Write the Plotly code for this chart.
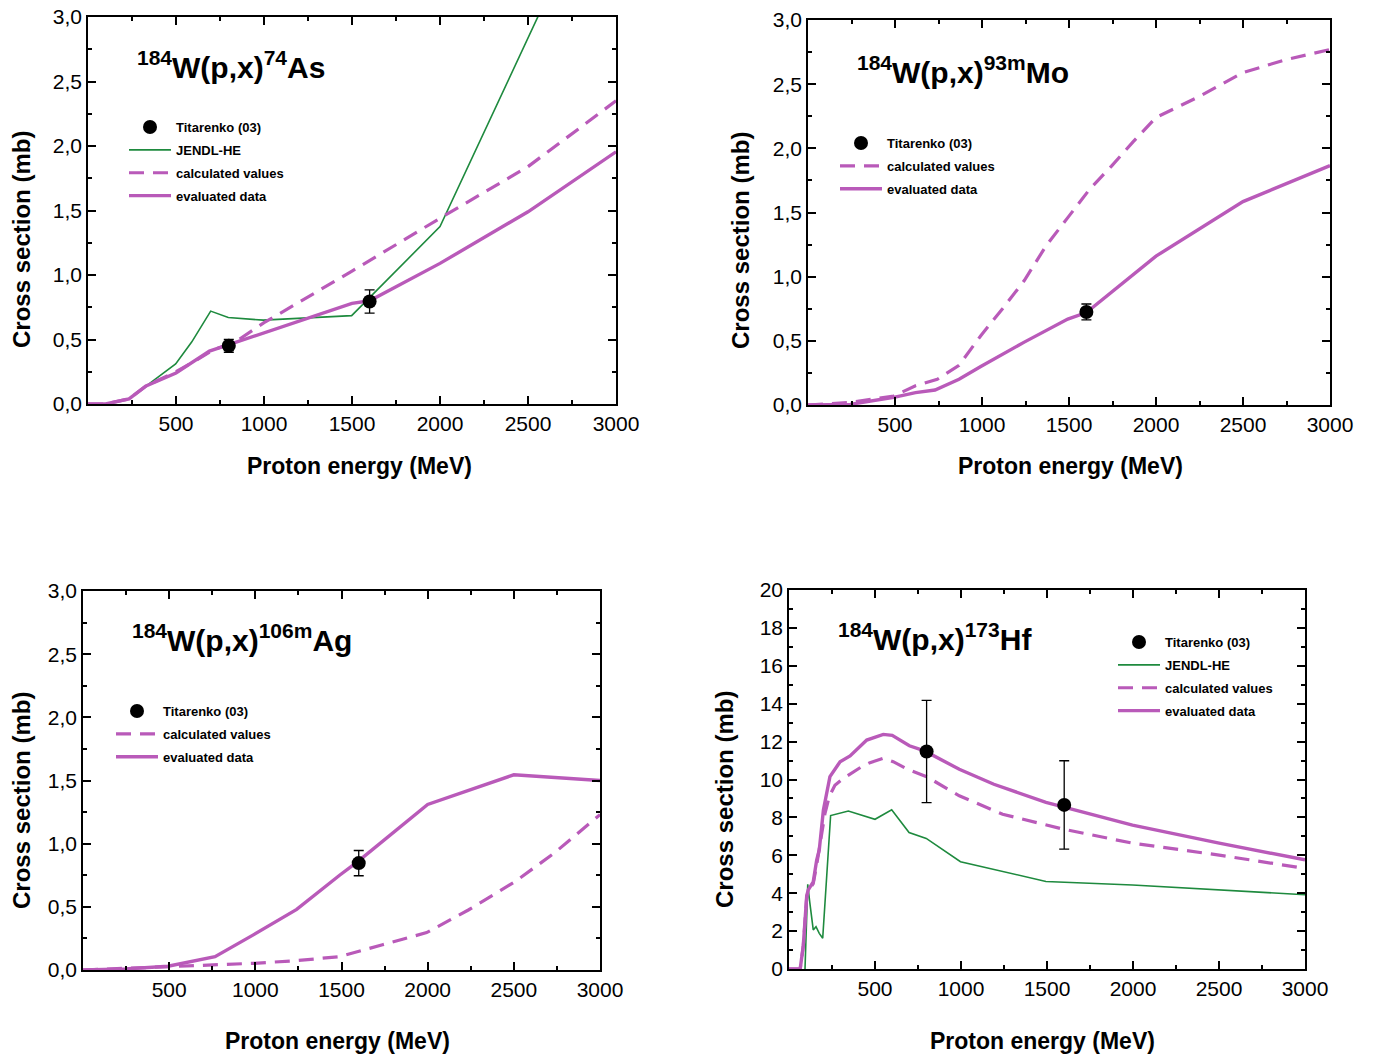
import plotly.graph_objects as go

# ---------------- data ----------------
# Panel 1: 184W(p,x)74As
as_exp_E = [800, 1600]
as_exp = [0.451, 0.795]
as_exp_err = [0.05, 0.09]
as_jendl_E = [100, 233, 498, 589, 697, 797, 996, 1498, 2000, 3000]
as_jendl = [0.0, 0.04, 0.31, 0.48, 0.72, 0.67, 0.65, 0.685, 1.375, 4.3]
as_calc_E = [0, 100, 233, 330, 500, 617, 711, 836, 1000, 1500, 2000, 2500, 3000]
as_calc = [0.0, 0.0, 0.04, 0.14, 0.25, 0.34, 0.42, 0.48, 0.63, 1.03, 1.44, 1.84, 2.35]
as_eval_E = [0, 100, 233, 330, 500, 690, 800, 1000, 1500, 1600, 2000, 2500, 3000]
as_eval = [0.0, 0.0, 0.04, 0.14, 0.24, 0.41, 0.46, 0.55, 0.78, 0.80, 1.09, 1.49, 1.955]

# Panel 2: 184W(p,x)93mMo
mo_exp_E = [1600]
mo_exp = [0.725]
mo_exp_err = [0.062]
mo_calc_E = [0, 243, 493, 618, 743, 868, 993, 1118, 1243, 1368, 1493, 1618, 1743, 1868, 2000, 2243, 2500, 2743, 3000]
mo_calc = [0.0, 0.02, 0.07, 0.15, 0.2, 0.31, 0.54, 0.75, 0.97, 1.24, 1.46, 1.68, 1.86, 2.05, 2.24, 2.40, 2.59, 2.69, 2.77]
mo_eval_E = [0, 243, 493, 618, 730, 868, 993, 1243, 1493, 1600, 2000, 2500, 3000]
mo_eval = [0.0, 0.005, 0.06, 0.096, 0.117, 0.2, 0.30, 0.49, 0.67, 0.72, 1.16, 1.585, 1.865]

# Panel 3: 184W(p,x)106mAg
ag_exp_E = [1600]
ag_exp = [0.846]
ag_exp_err = [0.10]
ag_calc_E = [0, 244, 493, 742, 991, 1240, 1489, 1738, 1994, 2236, 2502, 2734, 3000]
ag_calc = [0.0, 0.013, 0.026, 0.04, 0.053, 0.074, 0.106, 0.2, 0.296, 0.475, 0.695, 0.925, 1.23]
ag_eval_E = [0, 244, 493, 766, 991, 1240, 1489, 1596, 2000, 2500, 3000]
ag_eval = [0.0, 0.008, 0.03, 0.105, 0.28, 0.48, 0.75, 0.86, 1.31, 1.545, 1.50]

# Panel 4: 184W(p,x)173Hf
hf_exp_E = [800, 1600]
hf_exp = [11.48, 8.66]
hf_exp_err = [2.7, 2.33]
hf_jendl_E = [93, 109, 121, 141, 157, 176, 196, 242, 345, 500, 597, 698, 798, 997, 1494, 1997, 3000]
hf_jendl = [0.0, 4.47, 3.5, 2.06, 2.23, 1.88, 1.62, 8.1, 8.34, 7.9, 8.4, 7.2, 6.89, 5.66, 4.62, 4.43, 3.92]
hf_calc_E = [0, 65, 83, 103, 113, 141, 161, 184, 209, 234, 267, 316, 423, 471, 548, 606, 688, 800, 990, 1242, 1594, 1997, 2501, 3000]
hf_calc = [0.0, 0.0, 1.2, 3.8, 4.15, 4.5, 5.5, 6.8, 8.2, 9.1, 9.7, 10.06, 10.68, 10.89, 11.12, 10.94, 10.54, 10.15, 9.14, 8.17, 7.38, 6.64, 6.01, 5.31]
hf_eval_E = [0, 65, 83, 103, 112, 141, 161, 176, 200, 238, 297, 355, 452, 548, 600, 650, 700, 788, 990, 1191, 1494, 1997, 2501, 3000]
hf_eval = [0.0, 0.0, 1.23, 3.87, 4.17, 4.6, 5.75, 6.28, 8.39, 10.15, 10.94, 11.24, 12.08, 12.38, 12.33, 12.04, 11.78, 11.51, 10.54, 9.75, 8.79, 7.59, 6.64, 5.76]

titles = ["<b><sup>184</sup>W(p,x)<sup>74</sup>As</b>",
          "<b><sup>184</sup>W(p,x)<sup>93m</sup>Mo</b>",
          "<b><sup>184</sup>W(p,x)<sup>106m</sup>Ag</b>",
          "<b><sup>184</sup>W(p,x)<sup>173</sup>Hf</b>"]
x_tickvals = [500, 1000, 1500, 2000, 2500, 3000]
x_ticktext = ["500", "1000", "1500", "2000", "2500", "3000"]
y_tickvals_small = [0, 0.5, 1.0, 1.5, 2.0, 2.5, 3.0]
y_ticktext_small = ["0,0", "0,5", "1,0", "1,5", "2,0", "2,5", "3,0"]
y_tickvals_hf = [0, 2, 4, 6, 8, 10, 12, 14, 16, 18, 20]
y_ticktext_hf = [str(v) for v in y_tickvals_hf]

# ---------------- style ----------------
MAG = "#b95ab9"
GRN = "#1e8a3e"
OFF = 8                      # page body margin offset
W, H = 1379 - OFF, 1056 - OFF
FONT = "Liberation Sans, Arial, sans-serif"


def px(x):
    return (x - OFF) / W


def py(y):
    return 1 - (y - OFF) / H


fig = go.Figure()

panels = [
    dict(ax="", exp=(as_exp_E, as_exp, as_exp_err), jendl=(as_jendl_E, as_jendl),
         calc=(as_calc_E, as_calc), ev=(as_eval_E, as_eval)),
    dict(ax="2", exp=(mo_exp_E, mo_exp, mo_exp_err), jendl=None,
         calc=(mo_calc_E, mo_calc), ev=(mo_eval_E, mo_eval)),
    dict(ax="3", exp=(ag_exp_E, ag_exp, ag_exp_err), jendl=None,
         calc=(ag_calc_E, ag_calc), ev=(ag_eval_E, ag_eval)),
    dict(ax="4", exp=(hf_exp_E, hf_exp, hf_exp_err), jendl=(hf_jendl_E, hf_jendl),
         calc=(hf_calc_E, hf_calc), ev=(hf_eval_E, hf_eval)),
]

for i, p in enumerate(panels):
    xa, ya = "x" + p["ax"], "y" + p["ax"]
    leg = "legend" if i == 0 else "legend" + str(i + 1)
    if p["jendl"] is not None:
        fig.add_trace(go.Scatter(x=p["jendl"][0], y=p["jendl"][1], mode="lines",
                                 name="JENDL-HE", line=dict(color=GRN, width=1.6),
                                 xaxis=xa, yaxis=ya, legend=leg, legendrank=2,
                                 legendgroup=f"j{i}"))
    fig.add_trace(go.Scatter(x=p["calc"][0], y=p["calc"][1], mode="lines",
                             name="calculated values",
                             line=dict(color=MAG, width=3.2, dash="15px,9px"),
                             xaxis=xa, yaxis=ya, legend=leg, legendrank=3,
                             legendgroup=f"c{i}"))
    fig.add_trace(go.Scatter(x=p["ev"][0], y=p["ev"][1], mode="lines",
                             name="evaluated data", line=dict(color=MAG, width=3.4),
                             xaxis=xa, yaxis=ya, legend=leg, legendrank=4,
                             legendgroup=f"e{i}"))
    fig.add_trace(go.Scatter(x=p["exp"][0], y=p["exp"][1], mode="markers",
                             name="Titarenko (03)",
                             marker=dict(color="black", size=14),
                             error_y=dict(type="data", array=p["exp"][2], color="black",
                                          thickness=1.3, width=5),
                             xaxis=xa, yaxis=ya, legend=leg, legendrank=1,
                             legendgroup=f"x{i}"))

# domains in screen pixel coords (left, right, top, bottom)
boxes = [(88, 616, 17, 404), (808, 1330, 20, 405), (83, 600, 591, 970), (789, 1305, 590, 969)]

axis_common = dict(showline=True, linecolor="black", linewidth=1.5, mirror="allticks",
                   ticks="inside", ticklen=8, tickwidth=1.5, tickcolor="black",
                   showgrid=False, zeroline=False, automargin=False,
                   ticklabeloverflow="allow",
                   tickfont=dict(family=FONT, size=21, color="black"))

layout = dict(width=W, height=H, margin=dict(l=0, r=0, t=0, b=0),
              paper_bgcolor="white", plot_bgcolor="white", showlegend=True)

for i, (l, r, t, b) in enumerate(boxes):
    s = "" if i == 0 else str(i + 1)
    xd = [px(l), px(r)]
    yd = [py(b), py(t)]
    xaxis = dict(axis_common, domain=xd, range=[0, 3000], anchor="y" + s,
                 tickmode="array", tickvals=x_tickvals, ticktext=x_ticktext,
                 minor=dict(tickmode="array", tickvals=[250, 750, 1250, 1750, 2250, 2750],
                            ticks="inside", ticklen=4, tickwidth=1.5, tickcolor="black",
                            showgrid=False))
    if i == 3:
        yaxis = dict(axis_common, domain=yd, range=[0, 20], anchor="x" + s,
                     tickmode="array", tickvals=y_tickvals_hf, ticktext=y_ticktext_hf,
                     minor=dict(tickmode="array", tickvals=list(range(1, 20, 2)),
                                ticks="inside", ticklen=4, tickwidth=1.5,
                                tickcolor="black", showgrid=False))
    else:
        yaxis = dict(axis_common, domain=yd, range=[0, 3.0], anchor="x" + s,
                     tickmode="array", tickvals=y_tickvals_small, ticktext=y_ticktext_small,
                     minor=dict(tickmode="array", tickvals=[0.25, 0.75, 1.25, 1.75, 2.25, 2.75],
                                ticks="inside", ticklen=4, tickwidth=1.5,
                                tickcolor="black", showgrid=False))
    layout["xaxis" + s] = xaxis
    layout["yaxis" + s] = yaxis

# legends (screen pixel positions of top-left)
legpos = [(124, 112), (835, 128), (111, 696), (1113, 627)]
for i, (lx, ly) in enumerate(legpos):
    key = "legend" if i == 0 else "legend" + str(i + 1)
    layout[key] = dict(x=px(lx), y=py(ly), xanchor="left", yanchor="top",
                       bgcolor="rgba(0,0,0,0)", borderwidth=0,
                       font=dict(family=FONT, size=13, color="black", weight="bold"),
                       tracegroupgap=3, itemwidth=42, traceorder="grouped")

fig.update_layout(**layout)

# titles and axis titles as annotations
title_pos = [(135, 65), (855, 70), (130, 638), (836, 637)]
xt_pos = [(359, 466), (1070, 466), (337, 1041), (1042, 1041)]
yt_pos = [(21, 240), (741, 241), (21, 801), (724, 800)]
for i in range(4):
    tx, ty = title_pos[i]
    fig.add_annotation(text=titles[i], x=px(tx), y=py(ty), xref="paper", yref="paper",
                       xanchor="left", yanchor="middle", showarrow=False,
                       font=dict(family=FONT, size=30, color="black"))
    ax_, ay_ = xt_pos[i]
    fig.add_annotation(text="<b>Proton energy (MeV)</b>", x=px(ax_), y=py(ay_),
                       xref="paper", yref="paper", xanchor="center", yanchor="middle",
                       showarrow=False, font=dict(family=FONT, size=23, color="black"))
    bx, by = yt_pos[i]
    fig.add_annotation(text="<b>Cross section (mb)</b>", x=px(bx), y=py(by),
                       xref="paper", yref="paper", xanchor="center", yanchor="middle",
                       textangle=-90, showarrow=False,
                       font=dict(family=FONT, size=24, color="black"))

fig.write_html("out.html")
